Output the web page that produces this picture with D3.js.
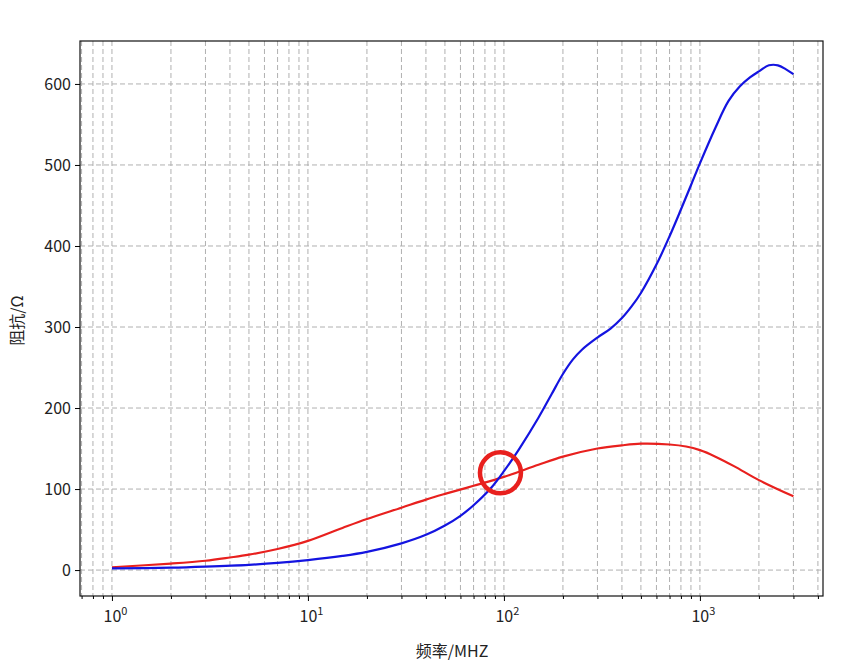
<!DOCTYPE html>
<html>
<head>
<meta charset="utf-8">
<script src="https://cdn.jsdelivr.net/npm/d3@7"></script>
<style>
  body { margin: 0; background: #fff; }
  text { font-family: "Noto Sans CJK SC", "DejaVu Sans", sans-serif; fill: #222; }
</style>
</head>
<body>
<div id="vis"></div>
<script>
// Frequencies (MHz) and impedance readings, blue curve
var blueFreq = [1, 2, 3, 5, 7, 10, 15, 20, 30, 40, 50, 60, 70, 85, 100, 120, 150, 175, 200, 225, 250, 300, 350, 400, 450, 500,
                600, 700, 800, 900, 1000, 1200, 1400, 1600, 1800, 2000, 2250, 2500, 2750, 3000];
var blueZ = [2, 3, 4.3, 6.5, 8.8, 12.3, 17.5, 22.5, 33, 43.5, 55, 67, 80, 100, 122, 150, 188, 217, 242, 260, 272, 287, 298, 311, 326, 342,
             377, 412, 445, 475, 502, 546, 579, 597, 608, 615.5, 623, 623, 618, 612];

// Red curve
var redFreq = [1, 2, 3, 4, 5, 7, 10, 15, 20, 30, 40, 50, 70, 100, 150, 200, 300, 400, 500, 700, 850, 1000, 1200, 1500, 2000, 3000];
var redZ = [3.5, 8, 11.5, 15.5, 19, 26, 36, 52, 63, 77, 87, 94, 104, 115, 130, 140, 150, 154, 156, 155, 152.5, 148, 140, 128, 111, 91];

// Highlighted crossing point
var markFreq = 96;
var markZ = 120;

var yTicks = [0, 100, 200, 300, 400, 500, 600];
var xMajor = [1, 10, 100, 1000];
var xMinor = [0.7, 0.8, 0.9, 2, 3, 4, 5, 6, 7, 8, 9, 20, 30, 40, 50, 60, 70, 80, 90,
              200, 300, 400, 500, 600, 700, 800, 900, 2000, 3000, 4000];

var width = 856, height = 671;
var margin = { left: 80, right: 33, top: 41, bottom: 75 };
var drawWidth = width - margin.left - margin.right;
var drawHeight = height - margin.top - margin.bottom;

var svg = d3.select('#vis').append('svg')
    .attr('width', width)
    .attr('height', height);

var g = svg.append('g')
    .attr('transform', 'translate(' + margin.left + ',' + margin.top + ')');

var xScale = d3.scaleLog()
    .domain([Math.pow(10, -0.163), Math.pow(10, 3.628)])
    .range([0, drawWidth]);

var yScale = d3.scaleLinear()
    .domain([-32, 653])
    .range([drawHeight, 0]);

// Grid lines
var grid = g.append('g').attr('stroke', '#b0b0b0').attr('stroke-width', 1)
    .attr('stroke-dasharray', '5,3').attr('fill', 'none');

xMajor.concat(xMinor).forEach(function(v) {
    grid.append('line')
        .attr('x1', xScale(v)).attr('x2', xScale(v))
        .attr('y1', 0).attr('y2', drawHeight);
});
yTicks.forEach(function(v) {
    grid.append('line')
        .attr('x1', 0).attr('x2', drawWidth)
        .attr('y1', yScale(v)).attr('y2', yScale(v));
});

// Curves
var line = d3.line()
    .x(function(d) { return xScale(d[0]); })
    .y(function(d) { return yScale(d[1]); })
    .curve(d3.curveCatmullRom.alpha(0.5));

g.append('path')
    .datum(d3.zip(redFreq, redZ))
    .attr('d', line)
    .attr('fill', 'none')
    .attr('stroke', '#e8201e')
    .attr('stroke-width', 2.2);

g.append('path')
    .datum(d3.zip(blueFreq, blueZ))
    .attr('d', line)
    .attr('fill', 'none')
    .attr('stroke', '#1414e0')
    .attr('stroke-width', 2.2);

// Red circle at crossing
g.append('circle')
    .attr('cx', xScale(markFreq))
    .attr('cy', yScale(markZ))
    .attr('r', 20.5)
    .attr('fill', 'none')
    .attr('stroke', '#e8201e')
    .attr('stroke-width', 4.5);

// Frame
g.append('rect')
    .attr('width', drawWidth).attr('height', drawHeight)
    .attr('fill', 'none').attr('stroke', '#111').attr('stroke-width', 1.2);

// Y axis
var yAxis = d3.axisLeft(yScale).tickValues(yTicks).tickSize(5).tickPadding(4);
var yG = g.append('g').call(yAxis);
yG.select('.domain').remove();
yG.selectAll('text').style('font-size', '16px');

// X axis: major and minor ticks
var xAxisMinor = d3.axisBottom(xScale).tickValues(xMinor).tickSize(3).tickFormat('');
var xMinG = g.append('g').attr('transform', 'translate(0,' + drawHeight + ')').call(xAxisMinor);
xMinG.select('.domain').remove();

var xAxis = d3.axisBottom(xScale).tickValues(xMajor).tickSize(5).tickFormat('');
var xG = g.append('g').attr('transform', 'translate(0,' + drawHeight + ')').call(xAxis);
xG.select('.domain').remove();

xG.selectAll('.tick').each(function(d) {
    var t = d3.select(this).append('text')
        .attr('x', 3)
        .attr('y', 26)
        .attr('text-anchor', 'middle')
        .style('font-size', '16px')
        .attr('fill', '#222');
    t.append('tspan').text('10');
    t.append('tspan').attr('dy', -7).style('font-size', '11px').text(Math.round(Math.log10(d)));
});

// Axis titles
svg.append('text')
    .attr('x', 452)
    .attr('y', 657)
    .attr('text-anchor', 'middle')
    .style('font-size', '16px')
    .text('频率/MHZ');

svg.append('text')
    .attr('transform', 'translate(23,' + (margin.top + drawHeight / 2 + 2) + ') rotate(-90)')
    .attr('text-anchor', 'middle')
    .style('font-size', '16px')
    .text('阻抗/Ω');
</script>
</body>
</html>
